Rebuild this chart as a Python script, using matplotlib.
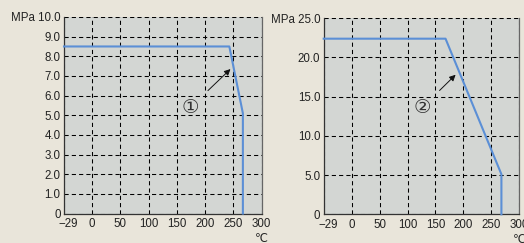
import numpy as np
import matplotlib
matplotlib.use("Agg")
import matplotlib.pyplot as plt
from matplotlib.transforms import ScaledTranslation

plt.rcParams['font.family'] = ['Liberation Sans', 'DejaVu Sans', 'Noto Sans CJK JP']

# data
temp_ticks = [-29, 0, 50, 100, 150, 200, 250, 300]
temp_labels = ["\u221229", "0", "50", "100", "150", "200", "250", "300"]

t1 = [-29, 243, 267, 267]
p1 = [8.5, 8.5, 5.1, 0]
y1_ticks = [0, 1, 2, 3, 4, 5, 6, 7, 8, 9, 10]
y1_labels = ["0", "1.0", "2.0", "3.0", "4.0", "5.0", "6.0", "7.0", "8.0", "9.0", "MPa 10.0"]

t2 = [-29, 168, 268, 268]
p2 = [22.4, 22.4, 5.1, 0]
y2_ticks = [0, 5, 10, 15, 20, 25]
y2_labels = ["0", "5.0", "10.0", "15.0", "20.0", "MPa 25.0"]

bg = "#e9e5da"
face = "#d3d6d3"
blue = "#5b8fd6"


def fwd(x):
    x = np.asarray(x, dtype=float)
    return np.where(x < 0, x * 50 / 29, x)


def inv(y):
    y = np.asarray(y, dtype=float)
    return np.where(y < 0, y * 29 / 50, y)


fig = plt.figure(figsize=(5.24, 2.43), dpi=100, facecolor=bg)
W, H = 524, 243


def make_ax(x0, x1, ytop, ybot, t, p, yt, yl, ymax, mark, txt_xy, tip_xy):
    ax = fig.add_axes([x0 / W, (H - ybot) / H, (x1 - x0) / W, (ybot - ytop) / H])
    ax.set_facecolor(face)
    ax.set_xscale('function', functions=(fwd, inv))
    ax.set_xlim(-29, 300)
    ax.set_ylim(0, ymax)
    ax.plot(t, p, color=blue, lw=1.5, zorder=3, clip_on=False)
    ax.set_xticks(temp_ticks)
    ax.set_xticklabels(temp_labels)
    ax.set_yticks(yt)
    ax.set_yticklabels(yl)
    ax.tick_params(length=0, labelsize=8.3, colors="#222222")
    ax.tick_params(axis="x", pad=3.5)
    ax.tick_params(axis="y", pad=2.5)
    # first x label sits a bit to the right of the corner
    lab = ax.get_xticklabels()[0]
    lab.set_transform(lab.get_transform() + ScaledTranslation(0.045, 0, fig.dpi_scale_trans))
    ax.grid(True, color="black", lw=0.75, linestyle=(0, (4, 3)))
    ax.set_axisbelow(True)
    ax.spines['top'].set_visible(False)
    ax.spines['left'].set_color("#333333")
    ax.spines['bottom'].set_color("#333333")
    ax.spines['right'].set_color("#666666")
    for s in ax.spines.values():
        s.set_linewidth(0.9)
    ax.annotate(mark, xy=tip_xy, xytext=txt_xy, fontsize=14,
                ha="center", va="center", color="#333333",
                family=['DejaVu Sans', 'Noto Sans CJK JP'],
                arrowprops=dict(arrowstyle="-|>", color="#111111", lw=0.7,
                                mutation_scale=9, shrinkA=6, shrinkB=0))
    ax.text(1.0, -0.095, "\u2103", transform=ax.transAxes, ha="center", va="top",
            fontsize=8.3, family=['DejaVu Sans'], color="#222222")
    return ax


make_ax(64, 261.5, 17, 213.5, t1, p1, y1_ticks, y1_labels, 10, "\u2460", (174, 5.4), (245, 7.35))
make_ax(323.7, 519.3, 18.3, 214.3, t2, p2, y2_ticks, y2_labels, 25, "\u2461", (126, 13.6), (186, 17.8))

fig.savefig("out.png", dpi=100, facecolor=bg)
